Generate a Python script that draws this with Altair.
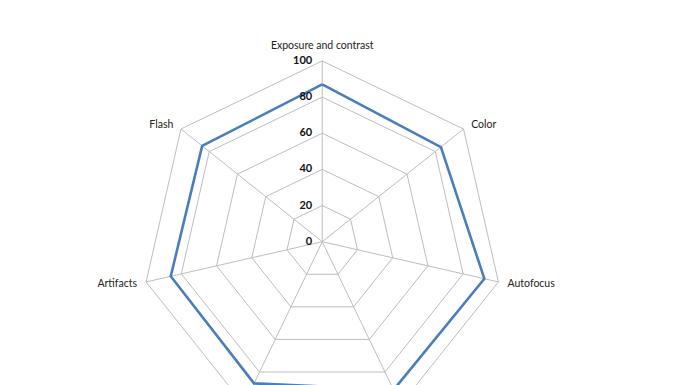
import math
import altair as alt
import pandas as pd

categories = ["Exposure and contrast", "Color", "Autofocus", "Texture", "Noise", "Artifacts", "Flash"]
values = [87, 84, 92, 91, 87, 86, 85]
levels = [20, 40, 60, 80, 100]
tick_labels = ["0", "20", "40", "60", "80", "100"]
tick_values = [0, 20, 40, 60, 80, 100]
# the two bottom category labels lie below the visible area of the reference
hidden_labels = ["Texture", "Noise"]

n = len(categories)
angles = [2 * math.pi * i / n for i in range(n)]

# grid rings
ring_rows = []
for lv in levels:
    for k in range(n + 1):
        a = angles[k % n]
        ring_rows.append({"level": lv, "order": k, "x": lv * math.sin(a), "y": lv * math.cos(a)})
rings = pd.DataFrame(ring_rows)

# spokes
spoke_rows = []
for i, a in enumerate(angles):
    spoke_rows.append({"cat": categories[i], "x": 0.0, "y": 0.0, "x2": 100 * math.sin(a), "y2": 100 * math.cos(a)})
spokes = pd.DataFrame(spoke_rows)

# series
ser_rows = []
for k in range(n + 1):
    i = k % n
    a = angles[i]
    ser_rows.append({"order": k, "x": values[i] * math.sin(a), "y": values[i] * math.cos(a)})
series = pd.DataFrame(ser_rows)

# category labels
lab_rows = []
for i, a in enumerate(angles):
    if categories[i] in hidden_labels:
        continue
    s, c = math.sin(a), math.cos(a)
    if s > 0.1:
        align = "left"
    elif s < -0.1:
        align = "right"
    else:
        align = "center"
    lab_rows.append({"cat": categories[i], "x": 104 * s, "y": 104 * c + (4 if align == "center" else 0), "align": align})
labels = pd.DataFrame(lab_rows)

ticks = pd.DataFrame({"v": tick_values, "t": tick_labels, "x": [0.0] * len(tick_values)})

W, H = 680, 400
xs = alt.Scale(domain=[-173.9, 202.4], nice=False, zero=False)
ys = alt.Scale(domain=[-92.0, 129.3], nice=False, zero=False)
X = lambda f: alt.X(f, type="quantitative", scale=xs, axis=None)
Y = lambda f: alt.Y(f, type="quantitative", scale=ys, axis=None)

grid_color = "#bdbdbd"

ring_layer = alt.Chart(rings).mark_line(color=grid_color, strokeWidth=1).encode(
    x=X("x"), y=Y("y"), detail="level:N", order="order:Q")

spoke_layer = alt.Chart(spokes).mark_rule(color=grid_color, strokeWidth=1).encode(
    x=X("x"), y=Y("y"), x2="x2:Q", y2="y2:Q")

series_layer = alt.Chart(series).mark_line(color="#4a7ebb", strokeWidth=2.6).encode(
    x=X("x"), y=Y("y"), order="order:Q")

font = "Lato"
label_layers = []
for al in ["left", "right", "center"]:
    sub = labels[labels["align"] == al]
    label_layers.append(
        alt.Chart(sub).mark_text(align=al, baseline="middle", font=font, fontSize=10.5, color="#222222",
                                 dx=(2 if al == "left" else (-2 if al == "right" else 0))).encode(
            x=X("x"), y=Y("y"), text="cat:N"))

tick_layer = alt.Chart(ticks).mark_text(align="right", baseline="middle", font=font, fontSize=11,
                                        fontWeight="bold", color="#111111", dx=-10).encode(
    x=X("x"), y=Y("v"), text="t:N")

chart = alt.layer(ring_layer, spoke_layer, series_layer, tick_layer, *label_layers).properties(
    width=W, height=H, autosize="none", padding=0
).configure_view(stroke=None)

chart.save("out.html", embed_options={"renderer": "svg", "actions": False})
